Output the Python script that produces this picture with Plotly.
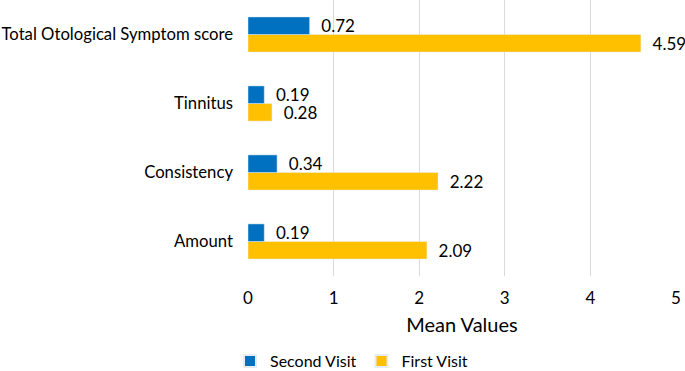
import plotly.graph_objects as go

categories = ["Amount", "Consistency", "Tinnitus", "Total Otological Symptom score"]
second_visit = [0.19, 0.34, 0.19, 0.72]
first_visit = [2.09, 2.22, 0.28, 4.59]
x_ticks = [0, 1, 2, 3, 4, 5]

font_family = "Lato, 'Open Sans', sans-serif"

fig = go.Figure()
fig.add_trace(go.Bar(
    y=categories, x=first_visit, orientation="h", name="First Visit",
    marker=dict(color="#FFC000"),
    text=[f"  {v:.2f}" for v in first_visit], textposition="outside",
    constraintext="none",
    textfont=dict(size=17, color="#000000", family=font_family), cliponaxis=False,
))
fig.add_trace(go.Bar(
    y=categories, x=second_visit, orientation="h", name="Second Visit",
    marker=dict(color="#0070C0"),
    text=[f"  {v:.2f}" for v in second_visit], textposition="outside",
    constraintext="none",
    textfont=dict(size=17, color="#000000", family=font_family), cliponaxis=False,
))

fig.update_layout(
    width=685, height=371,
    margin=dict(l=248, r=9, t=0, b=95, autoexpand=False),
    barmode="group", bargap=0.49, bargroupgap=0,
    plot_bgcolor="white", paper_bgcolor="white",
    font=dict(family=font_family, size=16, color="#000000"),
    showlegend=True,
    legend=dict(orientation="h", x=-0.042, xanchor="left", y=-0.247, yanchor="top",
                traceorder="reversed", font=dict(size=16),
                itemsizing="constant", itemwidth=30, tracegroupgap=0),
)
fig.update_xaxes(
    range=[0, 5], tickvals=x_ticks, showgrid=True, gridcolor="#D9D9D9", gridwidth=1.3,
    zeroline=False, showline=False, ticks="", automargin=False,
    title=dict(text="Mean Values", font=dict(size=20), standoff=10),
    tickfont=dict(size=17), ticklabelstandoff=10,
)
fig.update_yaxes(
    categoryorder="array", categoryarray=categories,
    showgrid=False, zeroline=False, showline=False, ticks="", automargin=False,
    ticklabelstandoff=14, tickfont=dict(size=16.7),
)

fig.write_html("out.html", config={"displayModeBar": False},
               post_script="document.body.style.margin='0';")
